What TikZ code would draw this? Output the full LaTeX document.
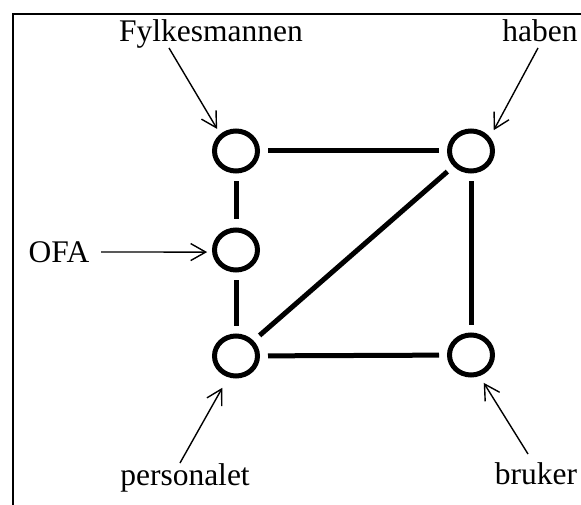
\documentclass[tikz,border=0pt]{standalone}
\usepackage{fontspec}
\setmainfont{Liberation Serif}
\usetikzlibrary{shapes.geometric,arrows.meta}
\begin{document}
\begin{tikzpicture}[
    x=1pt, y=1pt,
    vertex/.style={ellipse, draw, line width=5pt, minimum width=43pt, minimum height=40pt, inner sep=0pt},
    edge/.style={line width=5pt, shorten <=8pt, shorten >=8pt},
    tag/.style={inner sep=0pt, anchor=base, font=\fontsize{31.5}{36}\selectfont},
    pointer/.style={-{Straight Barb[length=15pt,width=17pt]}, line width=1.4pt}
]
\clip (0,0) rectangle (581,504);

% Cadre
\draw[line width=2pt] (13,-10) -- (13,490) -- (600,490);

% Sommets
\node[vertex] (fylk) at (236,353) {};
\node[vertex] (haben) at (471,353) {};
\node[vertex] (ofa) at (236,254) {};
\node[vertex] (pers) at (236,148) {};
\node[vertex] (bruker) at (471,149) {};

% Liens
\foreach \a/\b in {fylk/haben, fylk/ofa, ofa/pers, pers/bruker, haben/bruker, pers/haben} {
    \draw[edge] (\a) -- (\b);
}

% Textes
\node[tag] (tfylk) at (211,462) {Fylkesmannen};
\node[tag] (thaben) at (540,462) {haben};
\node[tag] (tofa) at (59,241) {OFA};
\node[tag] (tpers) at (185,19) {personalet};
\node[tag] (tbruker) at (536,20) {bruker};

% Fleches
\draw[pointer, shorten >=6pt] ([shift={(-42pt,-6pt)}]tfylk.base) -- (fylk.133);
\draw[pointer, shorten >=8pt] ([shift={(-2pt,-6pt)}]thaben.base) -- (haben.36);
\draw[pointer, shorten >=5pt] ([shift={(42pt,11pt)}]tofa.base) -- (ofa.185);
\draw[pointer, shorten >=12pt] ([shift={(-5pt,22pt)}]tpers.base) -- (pers.250);
\draw[pointer, shorten >=8pt] ([shift={(-8pt,30pt)}]tbruker.base) -- (bruker.292);

\end{tikzpicture}
\end{document}
